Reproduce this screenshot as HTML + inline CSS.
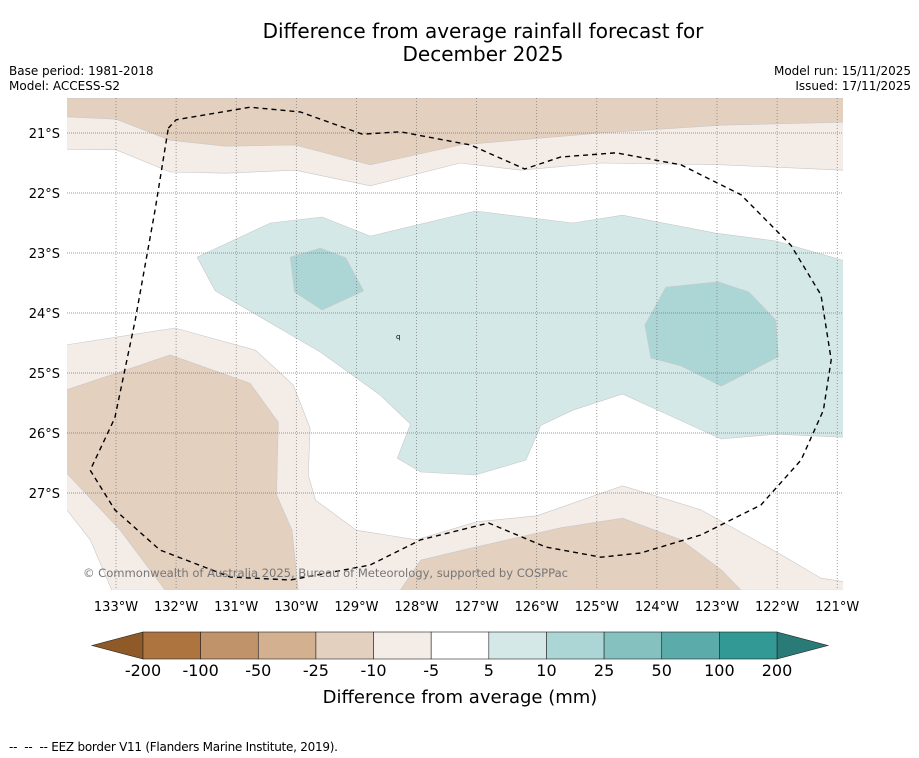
<!DOCTYPE html>
<html><head><meta charset="utf-8"><style>
body{margin:0;background:#fff;width:919px;height:758px;overflow:hidden;font-family:"DejaVu Sans","Liberation Sans",sans-serif}
svg{display:block}
</style></head><body>
<svg id="c" width="919" height="758" xmlns="http://www.w3.org/2000/svg" font-family="DejaVu Sans, Liberation Sans, sans-serif">
<text x="483" y="38" font-size="20" text-anchor="middle">Difference from average rainfall forecast for</text>
<text x="483" y="61" font-size="20" text-anchor="middle">December 2025</text>
<text x="9" y="75" font-size="12">Base period: 1981-2018</text>
<text x="9" y="90" font-size="12">Model: ACCESS-S2</text>
<text x="911" y="75" font-size="12" text-anchor="end">Model run: 15/11/2025</text>
<text x="911" y="90" font-size="12" text-anchor="end">Issued: 17/11/2025</text>
<defs><clipPath id="mapclip"><rect x="67" y="98" width="776" height="492"/></clipPath></defs>
<g id="map" clip-path="url(#mapclip)"></g>
<g id="grid"></g>
<g id="eez"></g>
<text x="83" y="577" font-size="11.6" fill="#777" textLength="485">© Commonwealth of Australia 2025, Bureau of Meteorology, supported by COSPPac</text>
<text x="396" y="339" font-size="7">q</text>
<g id="xt"></g>
<g id="cb"></g>
<text x="460" y="703" font-size="18" text-anchor="middle">Difference from average (mm)</text>
<text x="9" y="751" font-size="12" textLength="329" xml:space="preserve">--  --  -- EEZ border V11 (Flanders Marine Institute, 2019).</text>
</svg>
<script>
const lonTicks=[-133,-132,-131,-130,-129,-128,-127,-126,-125,-124,-123,-122,-121];
const latTicks=[-21,-22,-23,-24,-25,-26,-27];
const cbLevels=[-200,-100,-50,-25,-10,-5,5,10,25,50,100,200];
const cbColors=["#ad7440","#c0936a","#d3b08f","#e3d0bf","#f4ece7","#ffffff","#d4e8e7","#acd6d5","#84c1bf","#5aaba9","#329994"];
const topLight=[[-133.82,-20.42],[-120.88,-20.42],[-120.88,-21.62],[-122.93,-21.53],[-124.93,-21.5],[-126.27,-21.62],[-127.27,-21.5],[-128.77,-21.88],[-130.02,-21.62],[-131.18,-21.67],[-132.1,-21.65],[-133,-21.28],[-133.82,-21.27]];
const topBrown=[[-133.82,-20.42],[-120.88,-20.42],[-120.88,-20.82],[-122.93,-20.87],[-124.93,-21],[-127.27,-21.2],[-128.77,-21.53],[-130.02,-21.2],[-131.18,-21.22],[-132.1,-21.12],[-133,-20.77],[-133.82,-20.73]];
const tealLight=[[-131.65,-23.07],[-130.43,-22.5],[-129.57,-22.4],[-128.77,-22.72],[-127.02,-22.3],[-125.4,-22.5],[-124.57,-22.37],[-123.02,-22.67],[-122.02,-22.8],[-120.88,-23.13],[-120.88,-26.07],[-122.02,-26.02],[-122.93,-26.1],[-124.57,-25.35],[-125.4,-25.62],[-125.93,-25.87],[-126.18,-26.45],[-127.02,-26.7],[-127.93,-26.65],[-128.32,-26.42],[-128.1,-25.85],[-128.6,-25.37],[-129.6,-24.65],[-131.35,-23.63]];
const tealWest=[[-130.1,-23.07],[-129.6,-22.92],[-129.18,-23.08],[-128.88,-23.63],[-129.57,-23.95],[-130.03,-23.65]];
const tealEast=[[-124.2,-24.2],[-123.85,-23.57],[-122.98,-23.48],[-122.47,-23.65],[-122.02,-24.12],[-121.98,-24.73],[-122.93,-25.22],[-123.6,-24.88],[-124.1,-24.75]];
const botLight=[[-133.82,-24.53],[-132.02,-24.25],[-130.68,-24.62],[-130.05,-25.2],[-129.77,-25.92],[-129.8,-26.7],[-129.68,-27.12],[-129,-27.62],[-128,-27.78],[-127,-27.48],[-126,-27.38],[-124.57,-26.88],[-123.27,-27.28],[-121.93,-28.03],[-121.27,-28.42],[-120.88,-28.48],[-120.88,-28.62],[-133.07,-28.62],[-133.43,-27.78],[-133.82,-27.28]];
const botBrownW=[[-133.82,-25.28],[-132.1,-24.7],[-130.77,-25.17],[-130.3,-25.82],[-130.33,-27.03],[-130.07,-27.62],[-129.97,-28.62],[-132.18,-28.62],[-132.93,-27.62],[-133.82,-26.67]];
const botBrownE=[[-128.27,-28.62],[-127.93,-28.12],[-127.1,-27.92],[-125.6,-27.58],[-124.57,-27.42],[-123.6,-27.78],[-122.93,-28.28],[-122.6,-28.62]];
const eezLine=[[-132.13,-20.92],[-132,-20.78],[-130.77,-20.57],[-129.93,-20.65],[-128.9,-21.02],[-128.27,-20.98],[-127.1,-21.2],[-126.2,-21.6],[-125.6,-21.4],[-124.68,-21.33],[-123.6,-21.53],[-122.6,-22.03],[-121.77,-22.87],[-121.27,-23.7],[-121.1,-24.78],[-121.23,-25.62],[-121.6,-26.45],[-122.27,-27.2],[-123.27,-27.7],[-124.27,-28],[-124.93,-28.07],[-125.85,-27.9],[-126.8,-27.5],[-127.93,-27.78],[-128.77,-28.2],[-130.1,-28.45],[-131.1,-28.4],[-132.27,-27.95],[-133.02,-27.28],[-133.43,-26.62],[-133.02,-25.75],[-132.68,-24.12],[-132.35,-22.28],[-132.13,-20.92]];

const NS="http://www.w3.org/2000/svg";
const X=lon=>116+(lon+133)*60.1;
const Y=lat=>133+(-21-lat)*60;
function mk(tag,attrs,parent){const e=document.createElementNS(NS,tag);for(const k in attrs)e.setAttribute(k,attrs[k]);parent.appendChild(e);return e;}
const map=document.getElementById('map');
function poly(pts,fill,name){
  const p=mk('polygon',{points:pts.map(q=>X(q[0]).toFixed(1)+','+Y(q[1]).toFixed(1)).join(' '),fill:fill,stroke:'#c8c8c8','stroke-width':0.6},map);
  
  
}
poly(topLight,cbColors[4],'region-top-light');
poly(topBrown,cbColors[3],'region-top-brown');
poly(tealLight,cbColors[6],'region-teal-light');
poly(tealWest,cbColors[7],'region-teal-west');
poly(tealEast,cbColors[7],'region-teal-east');
poly(botLight,cbColors[4],'region-bottom-light');
poly(botBrownW,cbColors[3],'region-bottom-brown-west');
poly(botBrownE,cbColors[3],'region-bottom-brown-east');

const grid=document.getElementById('grid');
lonTicks.forEach(l=>{const x=X(l);if(x<843){const g=mk('line',{x1:x,x2:x,y1:98,y2:590,stroke:'#777','stroke-width':0.7,'stroke-dasharray':'1,2'},grid);

}});
latTicks.forEach(l=>{const y=Y(l);const g=mk('line',{x1:67,x2:843,y1:y,y2:y,stroke:'#777','stroke-width':0.7,'stroke-dasharray':'1,1'},grid);


const t=mk('text',{x:60,y:y+5,'font-size':13,'text-anchor':'end'},grid);t.textContent=(-l)+'°S';

});
const eez=mk('polyline',{points:eezLine.map(q=>X(q[0]).toFixed(1)+','+Y(q[1]).toFixed(1)).join(' '),fill:'none',stroke:'#000','stroke-width':1.4,'stroke-dasharray':'5,4','stroke-linejoin':'round'},document.getElementById('eez'));


const xt=document.getElementById('xt');
lonTicks.forEach(l=>{const t=mk('text',{x:X(l),y:611,'font-size':13,'text-anchor':'middle'},xt);t.textContent=(-l)+'°W';

});

const cb=document.getElementById('cb');
const c0=143,c1=777,cy0=632,cy1=659,cw=(c1-c0)/(cbLevels.length-1);
const lt=mk('polygon',{points:`${c0},${cy0} ${c0},${cy1} 92,${(cy0+cy1)/2}`,fill:'#8f5a28',stroke:'#222','stroke-width':0.6},cb);


const rt=mk('polygon',{points:`${c1},${cy0} ${c1},${cy1} 828,${(cy0+cy1)/2}`,fill:'#2a7a77',stroke:'#222','stroke-width':0.6},cb);


cbColors.forEach((c,i)=>{const r=mk('rect',{x:c0+i*cw,y:cy0,width:cw,height:cy1-cy0,fill:c,stroke:'#222','stroke-width':0.6},cb);

});
cbLevels.forEach((v,i)=>{const t=mk('text',{x:c0+i*cw,y:676,'font-size':16,'text-anchor':'middle'},cb);t.textContent=v;

});
</script>
</body></html>
